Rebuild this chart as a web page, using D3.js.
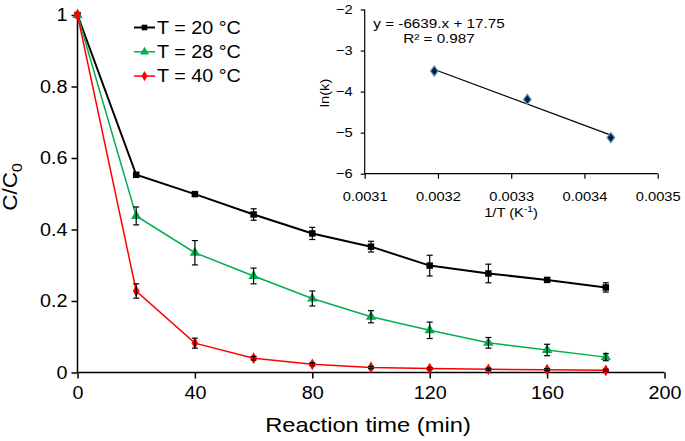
<!DOCTYPE html>
<html><head><meta charset="utf-8">
<script src="https://cdn.jsdelivr.net/npm/d3@7"></script>
<style>body{margin:0;background:#fff}svg{display:block}text{font-family:"Liberation Sans",Arial,sans-serif;fill:#000}</style>
</head><body><svg id="c" width="685" height="441"></svg>
<script>
const times = [0,20,40,60,80,100,120,140,160,180];
const seriesNames = ["T = 20 °C","T = 28 °C","T = 40 °C"];
const seriesColors = ["#000000","#00B050","#FF0000"];
const seriesShapes = ["square","triangle","diamond"];
const c20 = [1,0.553,0.499,0.442,0.389,0.352,0.299,0.277,0.259,0.238];
const c28 = [1,0.438,0.335,0.270,0.207,0.156,0.118,0.083,0.063,0.043];
const c40 = [1,0.228,0.082,0.040,0.023,0.014,0.011,0.009,0.008,0.006];
const e20 = [0,0.004,0.005,0.016,0.017,0.015,0.029,0.026,0.006,0.013];
const e28 = [0,0.025,0.034,0.022,0.021,0.017,0.023,0.015,0.016,0.010];
const e40 = [0,0.020,0.014,0.005,0.004,0.003,0.003,0.003,0.003,0.003];
const xTicks = [0,40,80,120,160,200];
const yTicks = [0,0.2,0.4,0.6,0.8,1];
// inset (Arrhenius)
const invT = [0.003195,0.003322,0.003436];
const lnk = [-3.50,-4.19,-5.12];
const fitSlope = -6639, fitIntercept = 17.75;
const insetXTicks = [0.0031,0.0032,0.0033,0.0034,0.0035];
const insetYTicks = [-6,-5,-4,-3,-2];

const S = 1.13; // horizontal glyph stretch seen in the reference
function stretch(sel){
  sel.each(function(){
    const t = d3.select(this);
    const ax = +(t.attr("x")||0), ay = +(t.attr("y")||0);
    const prev = t.attr("transform")||"";
    t.attr("transform",`${prev} translate(${ax},${ay}) scale(${S},1) translate(${-ax},${-ay})`);
  });
}

const svg = d3.select("#c");
const x = d3.scaleLinear().domain([0,200]).range([77.5,664.5]);
const y = d3.scaleLinear().domain([0,1]).range([372.5,15]);

const xAxis = svg.append("g").attr("transform","translate(0,372.5)")
  .call(d3.axisBottom(x).tickValues(xTicks).tickSize(6).tickPadding(8).tickFormat(d3.format("d")));
const yAxis = svg.append("g").attr("transform","translate(77.5,0)")
  .call(d3.axisLeft(y).tickValues(yTicks).tickSize(6).tickPadding(4).tickFormat(d=>d===0||d===1?String(d):d3.format(".1f")(d)));
[xAxis,yAxis].forEach(a=>{
  a.selectAll("path,line").attr("stroke","#000").attr("stroke-width",1.5);
  a.selectAll("text").style("font-size","17.5px").attr("fill","#000");
  stretch(a.selectAll("text"));
});
yAxis.select(".domain").attr("d","M-0,372.5V15");
xAxis.select(".domain").attr("d","M77.5,0H664.5");

stretch(svg.append("text").attr("x",368).attr("y",432).attr("text-anchor","middle").style("font-size","21px").text("Reaction time (min)"));
const yt = svg.append("text").attr("transform","translate(17,187) rotate(-90)").attr("text-anchor","middle").style("font-size","20px");
yt.append("tspan").text("C/C");
yt.append("tspan").attr("dy",5).style("font-size","14px").text("0");
stretch(yt);

const sym = {square:d3.symbolSquare, triangle:d3.symbolTriangle, diamond:d3.symbolDiamond};
const symSize = {square:42, triangle:46, diamond:40};
const data = [c20,c28,c40], errs=[e20,e28,e40];
const widths = [2,1.5,1.5];

data.forEach((vals,si)=>{
  const pts = times.map((t,i)=>({t,v:vals[i],e:errs[si][i]}));
  svg.append("path").datum(pts).attr("fill","none").attr("stroke",seriesColors[si]).attr("stroke-width",widths[si])
    .attr("d",d3.line().x(d=>x(d.t)).y(d=>y(d.v)));
  svg.append("g").selectAll("path").data(pts).join("path")
    .attr("transform",d=>`translate(${x(d.t)},${y(d.v)})`)
    .attr("d",d3.symbol().type(sym[seriesShapes[si]]).size(symSize[seriesShapes[si]]))
    .attr("fill",seriesColors[si]);
  const eb = svg.append("g").attr("stroke","#000").attr("stroke-width",1.2);
  pts.filter(d=>d.e>0).forEach(d=>{
    const cx=x(d.t), y1=y(d.v+d.e), y2=y(d.v-d.e);
    eb.append("line").attr("x1",cx).attr("x2",cx).attr("y1",y1).attr("y2",y2);
    eb.append("line").attr("x1",cx-3).attr("x2",cx+3).attr("y1",y1).attr("y2",y1);
    eb.append("line").attr("x1",cx-3).attr("x2",cx+3).attr("y1",y2).attr("y2",y2);
  });
});

// legend
const lg = svg.append("g");
seriesNames.forEach((n,i)=>{
  const ly = 27.5 + i*24.3;
  lg.append("line").attr("x1",134).attr("x2",155).attr("y1",ly).attr("y2",ly).attr("stroke",seriesColors[i]).attr("stroke-width",widths[i]);
  lg.append("path").attr("transform",`translate(144.5,${ly})`).attr("d",d3.symbol().type(sym[seriesShapes[i]]).size(symSize[seriesShapes[i]]*0.75)).attr("fill",seriesColors[i]);
  stretch(lg.append("text").attr("x",157).attr("y",ly+6.3).style("font-size","17.5px").text(n));
});

// inset
const ix = d3.scaleLinear().domain([0.0031,0.0035]).range([364.7,657.7]);
const iy = d3.scaleLinear().domain([-6,-2]).range([173.7,9.5]);
const ixa = svg.append("g").attr("transform","translate(0,173.7)")
  .call(d3.axisBottom(ix).tickValues(insetXTicks).tickSize(5).tickPadding(13).tickFormat(d3.format(".4f")));
const iya = svg.append("g").attr("transform","translate(364.7,0)")
  .call(d3.axisLeft(iy).tickValues(insetYTicks).tickSize(4).tickPadding(8).tickFormat(d3.format("d")));
[ixa,iya].forEach(a=>{
  a.selectAll("path,line").attr("stroke","#000").attr("stroke-width",1.2);
  a.selectAll("text").style("font-size","13px").attr("fill","#000");
  stretch(a.selectAll("text"));
});
ixa.select(".domain").attr("d","M364.7,0H657.7");
iya.select(".domain").attr("d","M0,173.7V9.5");
const xl = svg.append("text").attr("x",511).attr("y",217.5).attr("text-anchor","middle").style("font-size","13px");
xl.append("tspan").text("1/T (K");
xl.append("tspan").attr("dy",-5).style("font-size","9px").text("-1");
xl.append("tspan").attr("dy",5).text(")");
stretch(xl);
stretch(svg.append("text").attr("transform","translate(329,93) rotate(-90)").attr("text-anchor","middle").style("font-size","13px").text("ln(k)"));

const x0 = d3.min(invT), x1 = d3.max(invT);
svg.append("line").attr("x1",ix(x0)).attr("x2",ix(x1))
  .attr("y1",iy(fitSlope*x0+fitIntercept)).attr("y2",iy(fitSlope*x1+fitIntercept))
  .attr("stroke","#000").attr("stroke-width",1.2);
svg.append("g").selectAll("path").data(invT).join("path")
  .attr("transform",(d,i)=>`translate(${ix(d)},${iy(lnk[i])}) scale(1.3,1)`)
  .attr("d",d3.symbol().type(d3.symbolDiamond).size(30))
  .attr("fill","#0d1a33").attr("stroke","#5b9bd5").attr("stroke-width",1);
stretch(svg.append("text").attr("x",439).attr("y",28).attr("text-anchor","middle").style("font-size","13.5px").text(`y = ${fitSlope}.x + ${fitIntercept}`));
stretch(svg.append("text").attr("x",439).attr("y",43.5).attr("text-anchor","middle").style("font-size","13.5px").text("R² = 0.987"));
</script></body></html>
